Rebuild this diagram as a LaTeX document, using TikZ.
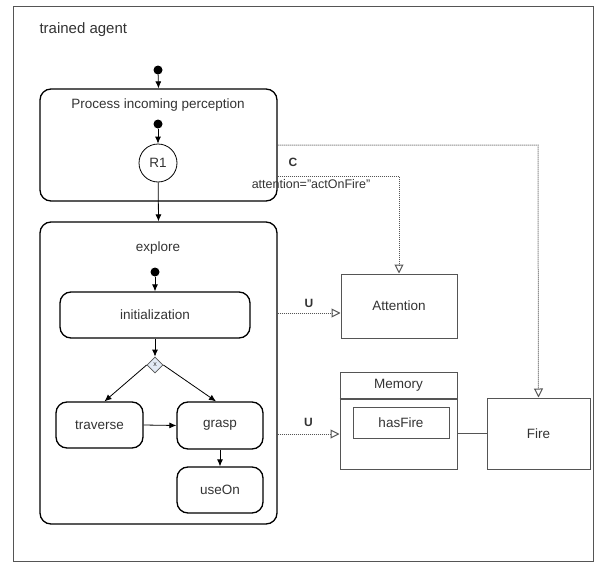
\documentclass[tikz,border=0pt]{standalone}
\usepackage{fontspec}
\setmainfont{Liberation Sans}
\usetikzlibrary{arrows.meta,shapes.geometric}
\definecolor{txtgray}{HTML}{333333}
\definecolor{linegray}{HTML}{555555}
\definecolor{choicefill}{HTML}{E2EAF5}
\tikzset{
  every node/.style={font=\fontsize{13.5}{16}\selectfont, text=txtgray},
  startdot/.style={circle, fill=black, inner sep=0pt, minimum size=9pt},
  statebox/.style={draw=black, line width=1.3pt, rounded corners=11pt, inner sep=0pt},
  plainbox/.style={draw=linegray, line width=1pt, inner sep=0pt},
  flow/.style={-{Latex[length=7pt,width=6pt]}, black, line width=0.8pt},
  usage/.style={-{Triangle[open,length=9pt,width=9pt]}, linegray, densely dotted, line width=1pt},
  tag/.style={font=\bfseries\fontsize{12}{14}\selectfont}
}
\begin{document}
\begin{tikzpicture}[x=1pt,y=-1pt]
\useasboundingbox (0,0) rectangle (595,562);
\draw[linegray, line width=1pt] (13,6) rectangle (593,561);
\node[anchor=west, font=\fontsize{15}{18}\selectfont] (title) at (36,30) {trained agent};

% perception part
\node[startdot] (s0) at (158,70) {};
\node[statebox, minimum width=237pt, minimum height=112pt] (proc) at (158.5,145) {};
\node (proclabel) at (158,105) {Process incoming perception};
\node[startdot] (s1) at (158,124) {};
\node[draw=black, circle, line width=0.8pt, minimum size=38pt, inner sep=0pt] (r1) at (158,163) {R1};

% explore part
\node[statebox, minimum width=237pt, minimum height=302pt] (explore) at (158.5,373) {};
\node (explorelabel) at (158,248) {explore};
\node[startdot] (s2) at (155,272) {};
\node[statebox, minimum width=190pt, minimum height=46pt] (init) at (155,315) {initialization};
\node[diamond, draw=linegray, fill=choicefill, line width=0.8pt, minimum size=16pt, inner sep=0pt, font=\fontsize{7}{7}\selectfont] (choice) at (155,365) {x};
\node[statebox, minimum width=87pt, minimum height=46pt] (traverse) at (99.5,425) {traverse};
\node[statebox, minimum width=86pt, minimum height=47pt] (grasp) at (220,425.5) {grasp};
\node[statebox, minimum width=86pt, minimum height=46pt] (useon) at (220,490) {useOn};

% resources
\node[plainbox, minimum width=116pt, minimum height=64pt] (attention) at (399,306) {Attention};
\node[plainbox, minimum width=117pt, minimum height=97pt] (memory) at (398.5,420.5) {};
\node (memorylabel) at (398.5,385) {Memory};
\node[plainbox, minimum width=96pt, minimum height=31pt] (hasfire) at (401,422.5) {hasFire};
\node[plainbox, minimum width=103pt, minimum height=71pt] (fire) at (538.5,433.5) {Fire};

\coordinate (hdr) at (0,399);
\coordinate (c1) at (399,176);
\coordinate (c2) at (538,145);
\coordinate (u1) at (0,313);
\coordinate (u2) at (0,434);

\draw[linegray, line width=1.8pt] (memory.west |- hdr) -- (memory.east |- hdr);
\draw[flow] (s0) -- (proc.north);
\draw[flow] (s1) -- (r1);
\draw[flow] (r1) -- (explore.north);
\draw[flow] (s2) -- (init);
\draw[flow] (init) -- (choice);
\draw[flow] (choice.west) -- ([xshift=5pt]traverse.north);
\draw[flow] (choice.east) -- ([xshift=-4pt]grasp.north);
\draw[flow] (traverse.east) -- (grasp.west);
\draw[flow] (grasp) -- (useon);

\draw[usage] (explore.east |- u1) -- node[tag, above=2pt] {U} (attention.west |- u1);
\draw[usage] (explore.east |- u2) -- node[tag, above=4pt] {U} (memory.west |- u2);
\draw[usage] (proc.east |- c1) -- (c1) -- (attention.north);
\node[tag] (ctag) at (293,162) {C};
\node[font=\fontsize{12.5}{14}\selectfont] (cond) at (311,184) {attention="actOnFire"};
\draw[usage] (proc.east |- c2) -- (c2) -- (fire.north);
\draw[linegray, line width=1pt] (memory.east |- fire) -- (fire.west);
\end{tikzpicture}
\end{document}
